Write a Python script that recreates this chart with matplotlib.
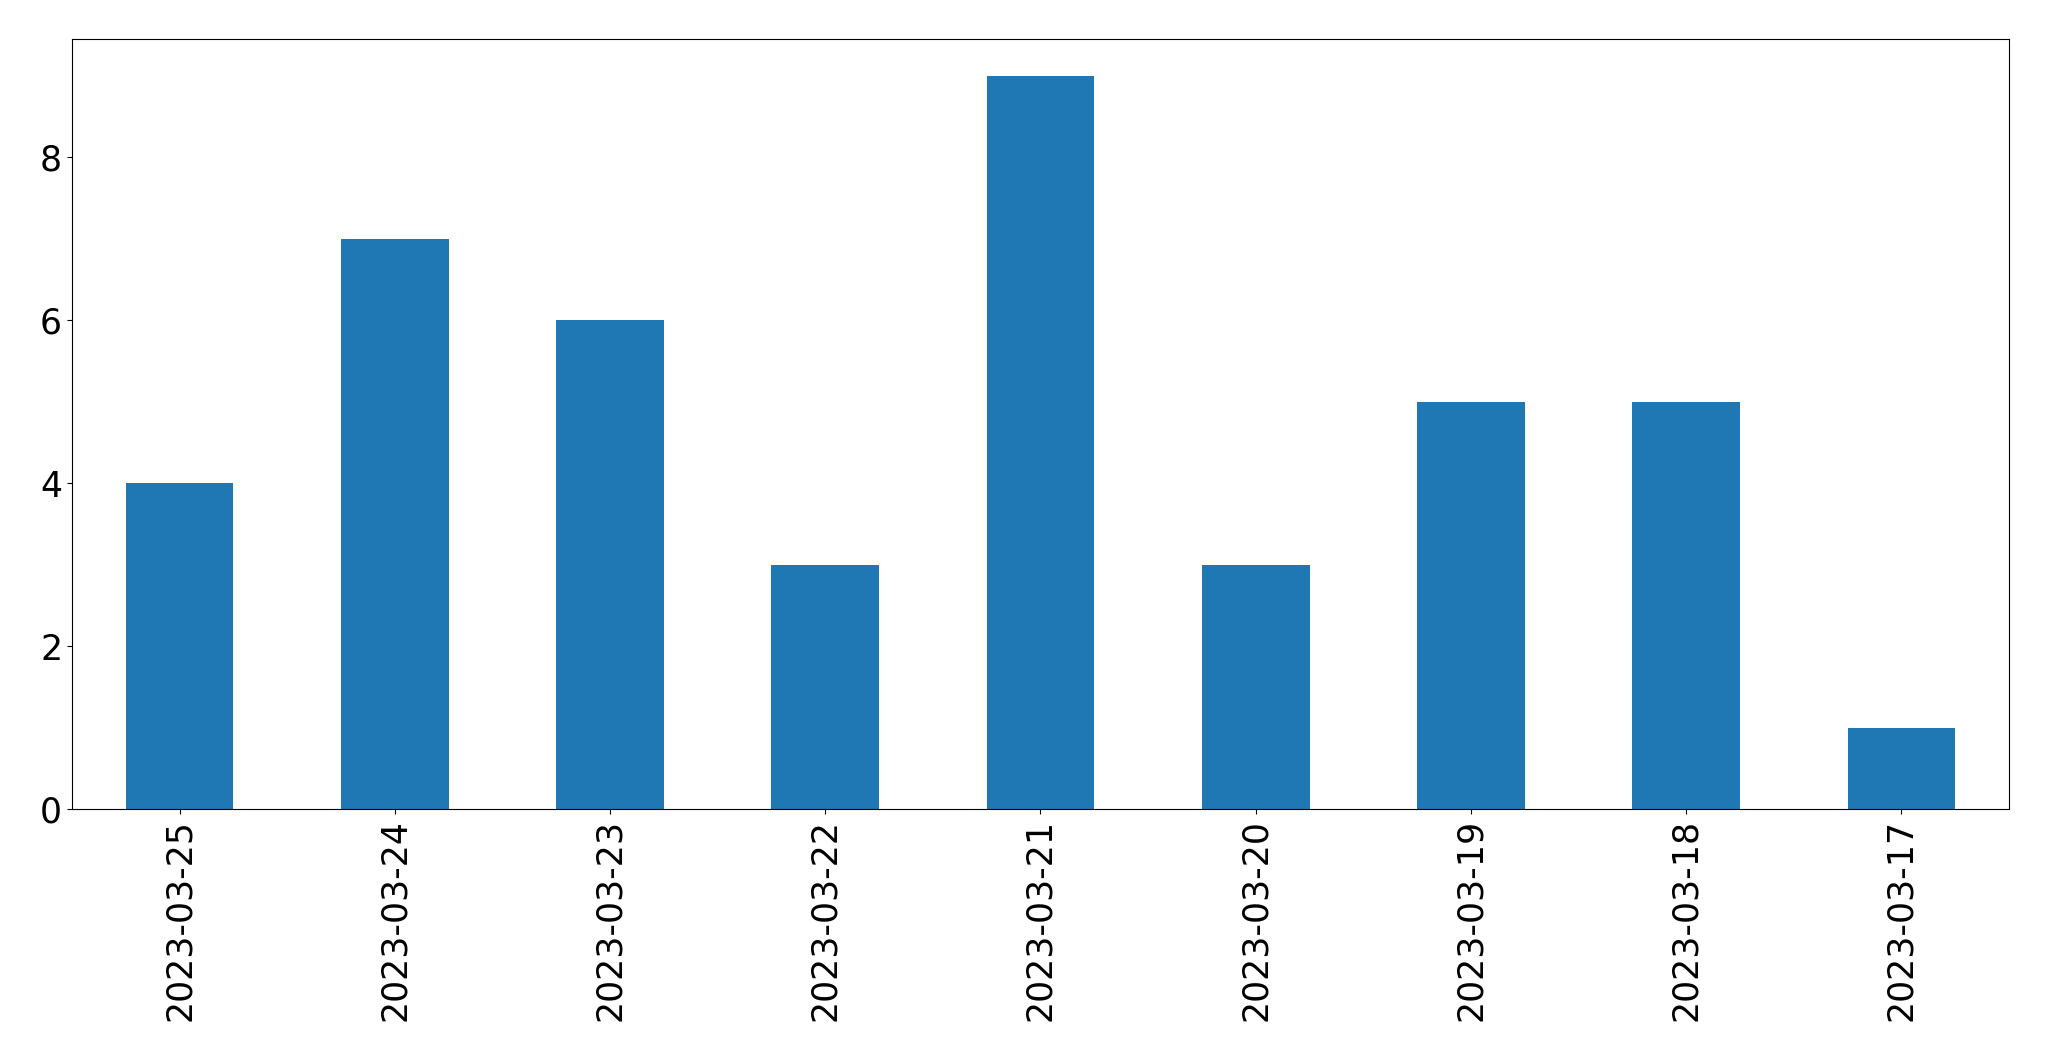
import matplotlib
matplotlib.use("Agg")
import matplotlib.pyplot as plt
import pandas as pd

dates = ["2023-03-25", "2023-03-24", "2023-03-23", "2023-03-22", "2023-03-21",
         "2023-03-20", "2023-03-19", "2023-03-18", "2023-03-17"]
counts = [4, 7, 6, 3, 9, 3, 5, 5, 1]

s = pd.Series(counts, index=dates)
fig, ax = plt.subplots(figsize=(20.49, 10.61), dpi=100)
s.plot(kind="bar", ax=ax, color="#1f77b4", fontsize=25)
fig.subplots_adjust(left=0.0351, right=0.9805, top=0.9632, bottom=0.2375)
fig.savefig("out.png", dpi=100)
